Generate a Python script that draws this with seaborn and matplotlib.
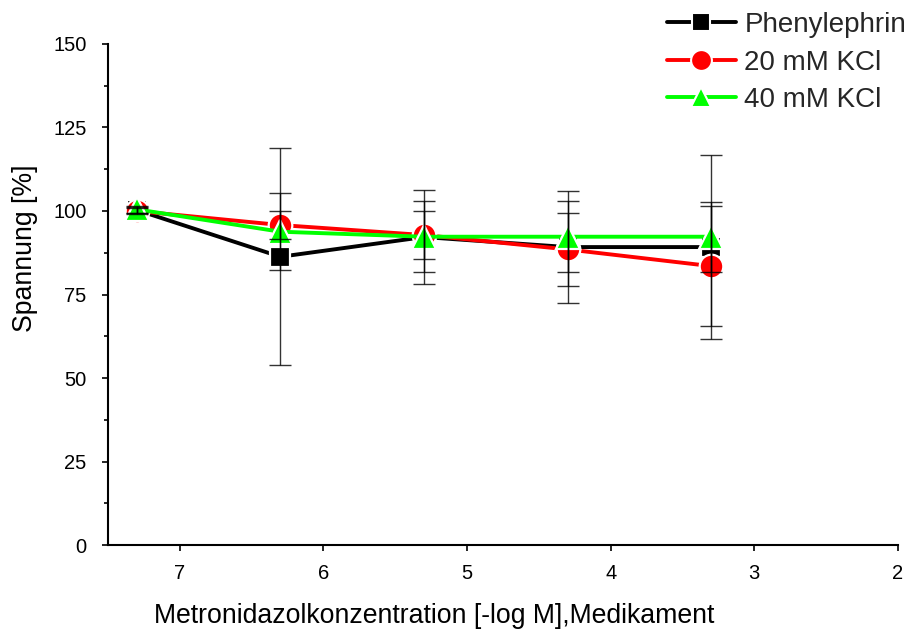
import matplotlib
matplotlib.use('Agg')
import matplotlib.pyplot as plt
import numpy as np
import pandas as pd
import seaborn as sns
from matplotlib.ticker import MultipleLocator

# Data
conc = [7.3, 6.3, 5.3, 4.3, 3.3]
phenylephrin = [100.3, 86.3, 92.2, 89.2, 89.2]
kcl_20 = [100.0, 95.8, 92.8, 88.5, 83.5]
kcl_40 = [100.5, 93.8, 92.3, 92.3, 92.3]
err_phenylephrin = [1.0, 32.5, 14.1, 16.8, 27.6]
err_kcl_20 = [1.0, 4.3, 7.2, 11.0, 18.0]
err_kcl_40 = [1.0, 11.6, 10.7, 10.7, 10.5]

series = ['Phenylephrin', '20 mM KCl', '40 mM KCl']
colors = {'Phenylephrin': 'black', '20 mM KCl': '#ff0000', '40 mM KCl': '#00ff00'}
markers = {'Phenylephrin': 's', '20 mM KCl': 'o', '40 mM KCl': '^'}
msizes = {'Phenylephrin': 15, '20 mM KCl': 17, '40 mM KCl': 17}

df = pd.DataFrame({
    'conc': conc * 3,
    'value': phenylephrin + kcl_20 + kcl_40,
    'err': err_phenylephrin + err_kcl_20 + err_kcl_40,
    'group': [s for s in series for _ in conc],
})

sns.set_style('ticks')
plt.rcParams['font.family'] = ['Liberation Sans', 'DejaVu Sans']

fig = plt.figure(figsize=(9.08, 6.33), dpi=100)
ax = fig.add_axes([0.1189, 0.139, 0.870, 0.7915])

# one seaborn call per series so each marker can have its own size
for s in series:
    sub = df[df['group'] == s]
    sns.lineplot(data=sub, x='conc', y='value', color=colors[s],
                 marker=markers[s], markersize=msizes[s],
                 markeredgecolor='white', markeredgewidth=1.6,
                 linewidth=2.8, errorbar=None, ax=ax, legend=False)

# error bars drawn over the markers
for s in series:
    sub = df[df['group'] == s]
    ax.errorbar(sub['conc'], sub['value'], yerr=sub['err'], fmt='none',
                ecolor='black', elinewidth=1.0, capsize=8, capthick=1.0,
                alpha=0.8, zorder=5)

ax.set_xlim(7.5, 2)
ax.set_ylim(0, 150)
ax.xaxis.set_major_locator(MultipleLocator(1))
ax.yaxis.set_major_locator(MultipleLocator(25))
ax.yaxis.set_minor_locator(MultipleLocator(12.5))
ax.tick_params(axis='both', which='major', direction='out', length=4.5,
               width=1.2, color='black', labelsize=14.5, labelcolor='black')
ax.tick_params(axis='y', which='minor', direction='out', length=3,
               width=1.2, color='black')
ax.tick_params(axis='x', pad=9)
ax.tick_params(axis='y', pad=11)

for side in ['top', 'right']:
    ax.spines[side].set_visible(False)
for side in ['left', 'bottom']:
    ax.spines[side].set_linewidth(1.5)
    ax.spines[side].set_color('black')

ax.set_xlabel('Metronidazolkonzentration [-log M],Medikament', fontsize=19.2,
              color='black')
ax.set_ylabel('Spannung [%]', fontsize=19.2, color='black')
ax.xaxis.set_label_coords(0.4127, -0.116)
ax.yaxis.set_label_coords(-0.0886, 0.593)

handles = [plt.Line2D([], [], color=colors[s], marker=markers[s], lw=2.8,
                      markersize=msizes[s] - 2, markeredgecolor='white',
                      markeredgewidth=1.5) for s in series]
fig.legend(handles, series, loc='upper right', bbox_to_anchor=(1.004, 0.99),
           frameon=False, fontsize=20, handlelength=2.5, handletextpad=0.3,
           labelspacing=0.42, borderaxespad=0.0, borderpad=0.2)

fig.savefig('out.png', dpi=100)
